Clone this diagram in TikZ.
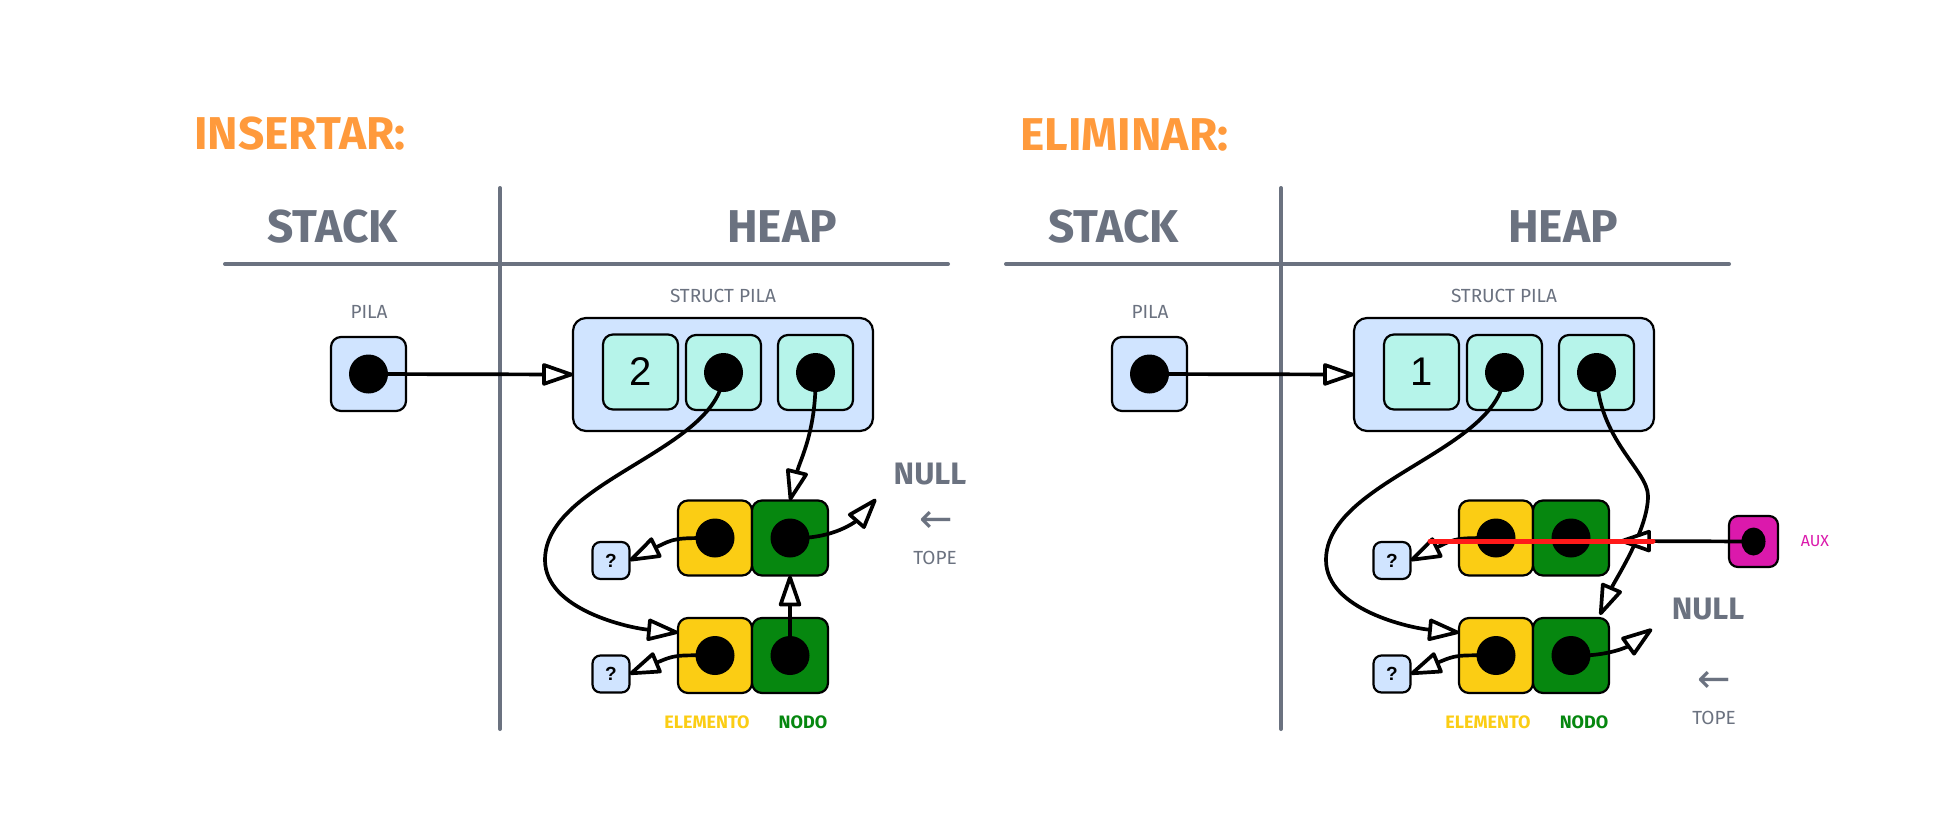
\documentclass[tikz,border=0pt]{standalone}
\usepackage{fontspec}
\setmainfont{Fira Sans}
\newfontfamily\numfont{Liberation Sans}
\newfontfamily\symfont{DejaVu Sans}
\usetikzlibrary{arrows.meta,shapes.geometric}
\definecolor{grayc}{HTML}{6B7280}
\definecolor{orangec}{HTML}{FF9A3C}
\definecolor{bluec}{HTML}{D0E4FF}
\definecolor{mintc}{HTML}{B6F4EA}
\definecolor{yellowc}{HTML}{FBCD14}
\definecolor{greenc}{HTML}{06870F}
\definecolor{magc}{HTML}{DB19AC}
\definecolor{redc}{HTML}{FF1A1A}
\newcommand\fsz[1]{\fontsize{#1}{#1}\selectfont}
\tikzset{
  box/.style={draw=black, line width=2.2pt, rounded corners=10pt, inner sep=0pt, outer sep=0pt},
  varbox/.style={box, fill=bluec, minimum width=75pt, minimum height=74pt},
  structbox/.style={box, fill=bluec, rounded corners=13pt, minimum width=300pt, minimum height=113pt},
  cellbox/.style={box, fill=mintc, minimum width=75pt, minimum height=75pt},
  elembox/.style={box, fill=yellowc, minimum width=74pt, minimum height=75pt},
  nodobox/.style={box, fill=greenc, minimum width=76pt, minimum height=75pt},
  qbox/.style={box, fill=bluec, rounded corners=8pt, minimum width=37pt, minimum height=37pt, font=\numfont\bfseries\fsz{19}},
  auxbox/.style={box, fill=magc, rounded corners=9pt, minimum width=49pt, minimum height=51pt},
  dot/.style={circle, fill=black, inner sep=0pt, minimum size=39pt},
  auxdot/.style={ellipse, fill=black, inner sep=0pt, minimum width=24pt, minimum height=28pt},
  ptr/.style={line width=3.7pt, line cap=round, -{Triangle[length=35pt, width=23pt, fill=white, round]}},
  sepline/.style={draw=grayc, line width=4pt, line cap=round},
  title/.style={text=orangec, font=\bfseries\fsz{46}, inner sep=0pt},
  header/.style={text=grayc, font=\bfseries\fsz{46}, inner sep=0pt},
  lbl/.style={text=grayc, font=\fsz{19}, inner sep=0pt},
  nulltxt/.style={text=grayc, font=\bfseries\fsz{31}, inner sep=0pt},
  arrtxt/.style={text=grayc, font=\symfont\fsz{40}, inner sep=0pt},
  elemtxt/.style={text=yellowc, font=\bfseries\fsz{18}, inner sep=0pt},
  nodotxt/.style={text=greenc, font=\bfseries\fsz{18}, inner sep=0pt},
  auxtxt/.style={text=magc, font=\fsz{16}, inner sep=0pt},
}
\newcommand\panel[3]{%
\begin{scope}[xshift=#3]
\draw[sepline] (225,264) -- (948,264);
\draw[sepline] (500,188) -- (500,729);
\node[header] (stack#1) at (332.5,226.5) {STACK};
\node[header] (heap#1) at (782,226.5) {HEAP};
\node[lbl] (pilalbl#1) at (369,312) {PILA};
\node[varbox] (pila#1) at (368.5,374) {};
\node[lbl] (structlbl#1) at (723,296) {STRUCT PILA};
\node[structbox] (struct#1) at (723,374.5) {};
\node[cellbox, font=\numfont\fsz{40}] (b1#1) at (640.5,372) {#2};
\node[cellbox] (b2#1) at (723.5,372.5) {};
\node[cellbox] (b3#1) at (815.5,372.5) {};
\node[elembox] (e1#1) at (715,538) {};
\node[nodobox] (n1#1) at (790,538) {};
\node[elembox] (e2#1) at (715,655.5) {};
\node[nodobox] (n2#1) at (790,655.5) {};
\node[qbox] (q1#1) at (611,560.5) {?};
\node[qbox] (q2#1) at (611,674) {?};
\node[elemtxt] (elemlbl#1) at (707,722) {ELEMENTO};
\node[nodotxt] (nodolbl#1) at (803,722) {NODO};
\node[dot] (dp#1) at (pila#1.center) {};
\node[dot] (d2#1) at (b2#1.center) {};
\node[dot] (d3#1) at (b3#1.center) {};
\node[dot] (de1#1) at (e1#1.center) {};
\node[dot] (dn1#1) at (n1#1.center) {};
\node[dot] (de2#1) at (e2#1.center) {};
\node[dot] (dn2#1) at (n2#1.center) {};
\draw[ptr] (dp#1.center) -- (struct#1.west);
\draw[ptr] (d2#1.center) .. controls (722,450) and (545,480) .. (545,560) .. controls (545,610) and (630,628) .. ([yshift=23pt]e2#1.west);
\draw[ptr] (de1#1.center) .. controls (675,538) .. (q1#1.east);
\draw[ptr] (de2#1.center) .. controls (675,655) .. (q2#1.east);
\end{scope}}
\begin{document}
\begin{tikzpicture}[x=1pt,y=-1pt]
\fill[white] (0,0) rectangle (1943,825);
\useasboundingbox (0,0) rectangle (1943,825);
\node[title] (ins) at (300,133.5) {INSERTAR:};
\node[title] (eli) at (1124.5,134.5) {ELIMINAR:};
\panel{L}{2}{0pt}
\panel{R}{1}{781pt}
% left specific
\coordinate (nullendL) at (876,499);
\draw[ptr] (d3L.center) .. controls (817,430) and (800,460) .. (n1L.north);
\draw[ptr] (dn1L.center) .. controls (840,540) and (862,515) .. (nullendL);
\draw[ptr] (dn2L.center) -- (n1L.south);
\node[nulltxt] (nullL) at (930,474) {NULL};
\node[arrtxt] (larrL) at (936,522) {←};
\node[lbl] (topeL) at (935,558) {TOPE};
% right specific
\coordinate (nullendR) at (1652,629);
\coordinate (auxendR) at (1620,541);
\draw[ptr] (d3R.center) .. controls (1598,440) and (1648,470) .. (1648,496) .. controls (1648,530) and (1615,580) .. ([xshift=29pt,yshift=3pt]n2R.north);
\draw[ptr] (dn2R.center) .. controls (1610,657) and (1630,645) .. (nullendR);
\node[auxbox] (auxR) at (1753.5,541.5) {};
\node[auxdot] (auxdR) at (auxR.center) {};
\draw[ptr] (auxdR.center) -- (auxendR);
\node[auxtxt] (auxlbl) at (1815,541) {AUX};
\node[nulltxt] (nullR) at (1708,609) {NULL};
\node[arrtxt] (larrR) at (1714,682) {←};
\node[lbl] (topeR) at (1714,718) {TOPE};
\coordinate (redA) at (1430,541);
\coordinate (redB) at (1653,541);
\draw[redc, line width=5pt, line cap=round] (redA) -- (redB);
\end{tikzpicture}
\end{document}
